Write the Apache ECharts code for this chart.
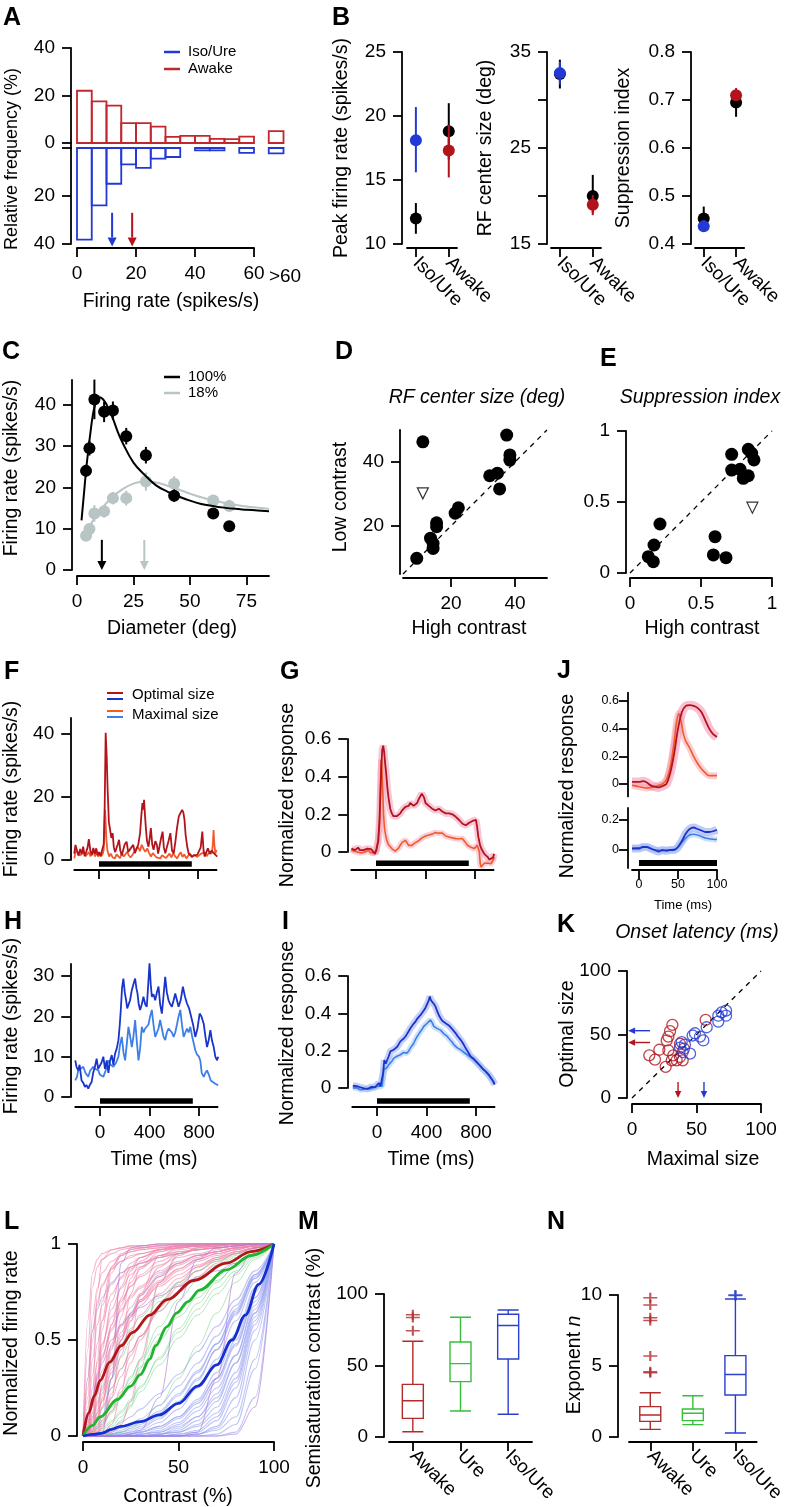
<!DOCTYPE html>
<html>
<head>
<meta charset="utf-8">
<script src="https://cdn.jsdelivr.net/npm/echarts@6/dist/echarts.min.js"></script>
<style>
html, body { margin: 0; padding: 0; background: #fff; }
#fig { width: 785px; height: 1507px; }
</style>
</head>
<body>
<div id="fig"></div>
<script>
// ---------- data ----------
// A: firing-rate histograms
const aBinStart = [0, 5, 10, 15, 20, 25, 30, 35, 40, 45, 50, 55, 65];
const aBinWidth = 5;
const aAwake = [22, 17.5, 15.7, 8.4, 8.4, 6.9, 2.6, 3, 3, 1.7, 1.6, 2.7, 5];
const aIsoUre = [38.2, 23.9, 14.9, 6.8, 8.3, 4.4, 3.75, 0, 1, 1, 0, 2, 2.2];
const aMeanIsoUre = 11.9;
const aMeanAwake = 18.7;

// B: population means
const bCats = ['Iso/Ure', 'Awake'];
const peakBlack = [12, 18.8], peakBlackLo = [10.8, 16.6], peakBlackHi = [13.2, 21];
const peakColor = [18.1, 17.3], peakColorLo = [15.6, 15.2], peakColorHi = [20.7, 19.3];
const rfBlack = [32.7, 20], rfBlackLo = [31.2, 18.2], rfBlackHi = [34.2, 22.2];
const rfColor = [32.8, 19.1], rfColorLo = [31.6, 18], rfColorHi = [34, 20.1];
const siBlack = [0.453, 0.695], siBlackLo = [0.43, 0.665], siBlackHi = [0.478, 0.72];
const siColor = [0.437, 0.71], siColorLo = [0.425, 0.7], siColorHi = [0.45, 0.725];

// C: size tuning example
const cDiam = [4, 5.5, 7.7, 12, 15.9, 21.8, 30.5, 43, 60.3, 67.4];
const c100 = [24, 29.5, 41.3, 38.3, 38.6, 32.4, 27.8, 18, 13.7, 10.6];
const c100Err = [1.5, 1.8, 4.8, 2.5, 2.2, 2, 2, 1.5, 1, 0.8];
const c18 = [8.3, 9.9, 13.7, 14.2, 17.4, 17.4, 21.4, 20.9, 16.8, 15.5];
const c18Err = [1, 1, 2, 1.5, 1.5, 1.8, 2.2, 1.8, 1.2, 1.5];
const cFit100X = [2, 3, 4, 5, 6, 7, 8, 9, 10, 12, 14, 16, 18, 20, 25, 30, 35, 40, 45, 50, 55, 60, 65, 70, 75, 80, 85];
const cFit100Y = [12, 18, 24, 29, 33.5, 37.5, 40, 41.5, 41.8, 41, 39, 36.5, 33.5, 31, 26, 23, 20.5, 19, 17.8, 16.8, 16, 15.5, 15.1, 14.8, 14.6, 14.4, 14.2];
const cFit18X = [3, 5, 8, 10, 15, 20, 25, 30, 35, 40, 45, 50, 55, 60, 65, 70, 75, 80, 85];
const cFit18Y = [8, 10, 12.8, 14.3, 17.3, 19.5, 20.9, 21.4, 21.2, 20.4, 19.5, 18.5, 17.6, 16.9, 16.3, 15.8, 15.4, 15.1, 14.8];
const cPeak100 = 11, cPeak18 = 29.8;

// D, E: high vs low contrast
const dHigh = [11.2, 37.4, 38.4, 38.4, 32.1, 34.5, 35.2, 22.3, 21.3, 15.5, 15.5, 13.6, 14.4, 14.4, 9.3];
const dLow = [46.3, 48.4, 42.2, 40.6, 35.7, 36.5, 31.6, 25.7, 24, 21, 19.8, 16.2, 14.6, 13, 9.9];
const dTriHigh = [11.2], dTriLow = [30.2];
const eHigh = [0.716, 0.833, 0.857, 0.873, 0.716, 0.775, 0.798, 0.833, 0.169, 0.129, 0.164, 0.211, 0.599, 0.587, 0.676];
const eLow = [0.836, 0.871, 0.843, 0.796, 0.725, 0.73, 0.667, 0.685, 0.197, 0.115, 0.08, 0.345, 0.256, 0.127, 0.108];
const eTriHigh = [0.862], eTriLow = [0.46];

// F-I: PSTHs, [time ms, value]
const stimOn = 0, stimOff = 750;
const fOptimal = [[-200,2],[-190,4.8],[-178,3],[-165,1.5],[-152,3.5],[-140,1.8],[-128,4.2],[-116,1.2],[-104,2.5],[-92,4],[-82,6.6],[-70,3],[-58,1.5],[-46,3.8],[-34,2],[-22,3.7],[-10,1.5],[0,2.5],[12,1.2],[27,1.6],[38,5],[46,17],[54,40.3],[62,33],[70,22],[80,12],[90,9.5],[100,7],[110,8.5],[120,4],[130,2.5],[141,2.1],[152,5],[162,6.4],[172,3],[184,1.5],[196,2.1],[208,5],[223,5.8],[236,2.5],[250,2.1],[262,4],[277,4.8],[290,2.2],[305,3.7],[318,5],[332,8.5],[342,14],[351,18],[358,16],[364,19.1],[372,14],[378,10.6],[388,6],[400,4.2],[410,7],[419,10.1],[430,5],[441,3.2],[455,6],[468,4.8],[478,2],[490,2.5],[502,7],[514,9],[524,4],[536,2.1],[548,4],[562,6],[577,8.5],[590,3],[604,2.1],[618,6],[630,10],[645,13.8],[660,15],[672,15.9],[682,15],[691,12.7],[700,8],[713,4.2],[725,2],[740,1.5],[753,1.1],[770,1.5],[794,1.6],[810,2],[822,4],[835,9],[845,3],[854,1.1],[868,2.5],[880,3.7],[895,2],[910,3],[930,2.1],[945,1.5],[955,1.1]];
const fMaximal = [[-200,0.5],[-190,2.5],[-180,3.2],[-168,1.5],[-155,2],[-145,1.6],[-132,3],[-120,2.7],[-108,1.2],[-95,1.1],[-82,2.5],[-70,1.2],[-58,2.1],[-45,3],[-32,1.1],[-20,2.6],[-8,1.1],[5,2.3],[18,1.2],[30,2],[38,3.2],[44,9],[49,15.9],[55,11],[60,6.4],[68,3],[82,1.1],[95,2],[110,0.8],[128,0.5],[142,1.8],[156,1.6],[170,0.6],[185,2.2],[200,1.1],[215,0.9],[228,2.6],[240,1.5],[255,0.8],[270,1.6],[285,2.1],[300,3.5],[315,4.2],[330,2.8],[345,4.8],[360,3.5],[375,2.6],[390,3.7],[405,2.2],[420,1.1],[435,2.2],[450,1.6],[465,0.8],[480,1.2],[495,0.5],[510,1.5],[525,1.6],[540,0.6],[555,1.1],[570,2],[585,0.8],[600,2.1],[615,1.2],[630,0.5],[645,1.5],[660,2.5],[675,1],[690,1.8],[705,0.5],[720,1.3],[735,2.1],[750,0.8],[765,1.6],[780,2.2],[795,1],[810,0.6],[825,2],[840,1.5],[855,2.4],[870,1.2],[885,2.1],[900,1.6],[912,2.1],[920,5],[926,9.5],[932,5],[940,2.1],[950,3.2]];
const gOptimal = [[-199,0.018],[-185,0.02],[-170,0.01],[-158,0.015],[-145,0.023],[-130,0.01],[-115,0.005],[-100,0.01],[-85,0.02],[-70,0.018],[-55,0.01],[-40,0.015],[-25,0.005],[-8,-0.01],[5,0.02],[19,0.06],[30,0.2],[41,0.42],[50,0.54],[58,0.565],[66,0.53],[74,0.47],[82,0.42],[92,0.34],[101,0.29],[115,0.23],[128,0.205],[141,0.19],[155,0.18],[168,0.19],[182,0.2],[196,0.205],[210,0.22],[223,0.23],[237,0.24],[250,0.25],[264,0.245],[277,0.26],[290,0.25],[304,0.245],[318,0.24],[332,0.26],[345,0.28],[359,0.29],[370,0.31],[378,0.32],[388,0.29],[400,0.26],[414,0.25],[427,0.245],[441,0.24],[454,0.23],[468,0.225],[481,0.22],[495,0.225],[508,0.23],[522,0.23],[536,0.215],[550,0.21],[563,0.205],[577,0.21],[590,0.205],[604,0.21],[617,0.2],[631,0.195],[645,0.187],[658,0.18],[672,0.17],[685,0.16],[699,0.15],[712,0.145],[726,0.142],[740,0.15],[753,0.155],[767,0.16],[780,0.165],[794,0.168],[808,0.17],[818,0.13],[827,0.08],[840,0.04],[850,0.02],[862,0.018],[875,-0.01],[889,-0.02],[903,-0.027],[916,-0.04],[930,-0.045],[945,-0.03],[955,-0.009]];
const gMaximal = [[-199,0.012],[-180,0.005],[-165,0.01],[-150,0],[-135,0.008],[-120,-0.005],[-105,0.005],[-90,0],[-75,0.005],[-60,0.01],[-45,-0.004],[-30,0.005],[-20,-0.004],[-8,0],[5,0.005],[19,0.009],[30,0.15],[41,0.49],[47,0.45],[54,0.33],[61,0.2],[68,0.13],[78,0.09],[87,0.062],[100,0.04],[114,0.03],[128,0.018],[142,0.01],[155,0.005],[169,0],[182,0.02],[196,0.036],[210,0.05],[223,0.045],[237,0.062],[250,0.05],[264,0.035],[277,0.027],[290,0.035],[304,0.045],[318,0.05],[332,0.053],[345,0.06],[359,0.07],[372,0.075],[386,0.08],[400,0.085],[414,0.088],[427,0.09],[441,0.089],[454,0.095],[468,0.1],[481,0.103],[495,0.107],[508,0.1],[522,0.095],[536,0.1],[550,0.09],[563,0.085],[577,0.082],[590,0.08],[604,0.078],[617,0.075],[631,0.072],[645,0.071],[658,0.075],[672,0.07],[685,0.072],[699,0.071],[712,0.06],[726,0.05],[740,0.036],[753,0.03],[767,0.025],[780,0.02],[794,0.018],[808,0.025],[818,0.035],[827,0.045],[835,0],[842,-0.06],[849,-0.08],[862,-0.07],[875,-0.06],[889,-0.053],[903,-0.058],[916,-0.065],[930,-0.062],[945,-0.045],[955,-0.027]];
const hOptimal = [[-200,9.1],[-190,7.5],[-176,6.6],[-165,8],[-149,4.1],[-135,3.5],[-122,2.5],[-110,3],[-95,2.1],[-82,3],[-68,3.7],[-55,6],[-41,7.5],[-27,9.5],[-15,7],[0,6.6],[12,8.5],[27,10],[40,7],[54,9.1],[68,6],[81,9],[95,10.4],[108,8],[122,10.8],[135,12],[149,14.1],[160,18],[168,21.6],[178,27],[189,29.4],[200,26],[211,24],[220,22],[230,21.6],[243,24],[257,26.5],[270,28],[284,29.4],[294,27],[303,25.7],[313,23],[324,21.6],[338,23],[351,24.9],[365,23],[378,22.4],[390,28],[400,33.2],[410,28],[419,24.9],[432,25.5],[446,24],[460,26],[473,27.4],[486,23],[500,20.7],[513,25],[527,29.8],[540,26],[554,24],[568,23],[581,22.4],[595,24],[608,25.7],[622,24],[635,22.4],[652,24],[670,27.4],[686,25],[703,23.2],[720,22],[735,21.6],[752,18],[770,14.9],[788,17],[805,20.7],[820,20],[838,18.2],[852,15],[865,12.4],[878,14],[892,16.6],[905,14],[919,12.4],[932,10],[946,9.1],[955,10]];
const hMaximal = [[-200,4.1],[-186,5],[-176,6.6],[-160,7],[-135,7.5],[-118,6],[-95,5],[-80,6.5],[-55,7.5],[-40,7],[-14,6.6],[0,5.5],[27,5],[45,6.5],[68,9.1],[85,8],[108,7.5],[130,8.5],[149,10],[162,13],[176,14.9],[190,11],[203,9.1],[216,13],[230,17.4],[244,15],[257,12.4],[270,15],[284,19.1],[297,14],[311,9.1],[324,12],[338,17.4],[352,16],[365,17],[378,17.4],[392,18],[405,20],[419,21.6],[432,18],[446,14.9],[460,16],[473,17],[486,19.1],[500,17],[513,15],[527,14.1],[540,16],[554,17],[568,17.4],[581,16],[595,14.9],[608,16],[622,18],[635,20],[649,21.6],[662,18],[676,14.9],[690,16],[703,17],[716,16],[730,17.4],[745,15],[760,13],[770,11.6],[785,10.5],[800,10],[811,9],[822,6],[838,5],[852,6],[865,6.6],[880,5.5],[895,4.1],[910,4],[932,3.3],[945,3.5],[955,2.9]];
const iOptimal = [[-195,0.012],[-180,0.005],[-165,0.01],[-150,0],[-135,0.004],[-120,0.008],[-105,-0.002],[-90,0.003],[-75,-0.005],[-60,0.002],[-45,0.006],[-30,-0.002],[-15,0.004],[0,0.01],[14,0.027],[28,0.01],[41,0],[50,0.08],[59,0.15],[70,0.13],[81,0.13],[95,0.17],[108,0.196],[122,0.19],[135,0.205],[149,0.214],[162,0.22],[176,0.235],[189,0.25],[203,0.255],[216,0.265],[230,0.276],[243,0.29],[257,0.305],[270,0.32],[284,0.33],[297,0.345],[311,0.356],[324,0.37],[338,0.38],[351,0.39],[365,0.4],[378,0.415],[392,0.43],[405,0.44],[416,0.465],[427,0.49],[436,0.47],[446,0.463],[460,0.45],[473,0.436],[487,0.41],[500,0.39],[514,0.374],[527,0.36],[541,0.355],[554,0.347],[568,0.34],[581,0.335],[595,0.33],[608,0.315],[622,0.305],[635,0.294],[649,0.28],[662,0.27],[676,0.258],[689,0.245],[703,0.23],[716,0.214],[730,0.2],[743,0.185],[757,0.169],[770,0.16],[784,0.155],[797,0.151],[811,0.135],[824,0.125],[838,0.116],[851,0.105],[865,0.095],[878,0.089],[892,0.08],[905,0.07],[919,0.062],[935,0.04],[951,0.018]];
const iMaximal = [[-195,0],[-180,-0.005],[-165,0.002],[-150,-0.008],[-135,-0.009],[-120,-0.004],[-105,-0.006],[-90,0],[-75,-0.003],[-60,0],[-45,-0.004],[-30,0.002],[-15,0.005],[0,0.009],[14,0.01],[28,0.005],[41,0.01],[54,0.098],[68,0.09],[81,0.11],[95,0.125],[108,0.13],[122,0.145],[135,0.16],[149,0.165],[162,0.17],[176,0.175],[189,0.178],[203,0.18],[216,0.19],[230,0.183],[243,0.187],[257,0.2],[270,0.215],[284,0.228],[297,0.24],[311,0.26],[324,0.275],[338,0.29],[351,0.303],[365,0.315],[378,0.33],[392,0.34],[405,0.347],[418,0.355],[432,0.365],[446,0.35],[459,0.33],[473,0.325],[487,0.318],[500,0.312],[514,0.31],[527,0.3],[541,0.29],[554,0.285],[568,0.276],[581,0.265],[595,0.255],[608,0.245],[622,0.231],[635,0.225],[649,0.215],[662,0.21],[676,0.205],[689,0.195],[703,0.19],[716,0.185],[730,0.178],[743,0.17],[757,0.165],[770,0.16],[784,0.151],[797,0.145],[811,0.135],[824,0.125],[838,0.116],[851,0.105],[865,0.095],[878,0.087],[892,0.08],[905,0.065],[919,0.055],[935,0.04],[951,0.027]];

// J: onset zoom
const jStim = [0, 100];
const jAwakeOptimal = [[-9,0.015],[0,0.015],[5,0.02],[10,0.01],[15,-0.01],[20,-0.02],[25,-0.025],[30,-0.015],[35,0],[40,0.08],[45,0.22],[50,0.4],[55,0.52],[60,0.565],[65,0.57],[70,0.565],[75,0.55],[80,0.52],[85,0.46],[90,0.4],[95,0.36],[100,0.34]];
const jAwakeMaximal = [[-9,-0.01],[0,-0.02],[5,-0.025],[10,-0.03],[15,-0.025],[20,-0.02],[25,-0.01],[30,0],[35,0.03],[40,0.12],[45,0.3],[48,0.44],[51,0.51],[54,0.45],[57,0.36],[60,0.31],[65,0.26],[70,0.2],[75,0.15],[80,0.11],[85,0.08],[90,0.06],[95,0.06],[100,0.06]];
const jIsoOptimal = [[-9,0.01],[0,0.01],[5,0.02],[10,0.02],[15,0.01],[20,0],[25,-0.01],[30,0],[35,-0.005],[40,0],[45,0],[50,0.02],[55,0.06],[60,0.11],[65,0.14],[70,0.15],[75,0.14],[80,0.13],[85,0.12],[90,0.12],[95,0.125],[100,0.135]];
const jIsoMaximal = [[-9,0.01],[0,0.015],[5,0.02],[10,0.02],[15,0.01],[20,0],[25,0],[30,-0.005],[35,0],[40,0],[45,0.005],[50,0.02],[55,0.05],[60,0.08],[65,0.1],[70,0.105],[75,0.1],[80,0.09],[85,0.08],[90,0.075],[95,0.072],[100,0.07]];

// K: onset latency
const kAwakeMax = [31.3, 29.5, 28.2, 26.9, 21.2, 13.4, 17.8, 26.1, 28.2, 32, 34.6, 39.3, 37.2, 40.3, 30.8, 57.1, 37.2];
const kAwakeOpt = [57.6, 52.6, 48.4, 45.3, 38, 33.6, 30.2, 24.5, 37.5, 33.6, 29.7, 29.7, 32.3, 38.8, 29.7, 61.5, 42.7];
const kIsoMax = [38.5, 37.2, 39.3, 45, 47, 48.8, 52.7, 55.3, 57.9, 66.9, 69.5, 72.9, 72.9, 66.9, 41];
const kIsoOpt = [44, 39.6, 36.2, 34.9, 49.2, 51, 48.4, 45.3, 55.7, 64.8, 67.4, 68.8, 64.8, 60.2, 42];
const kMeanOpt = { iso: 53, awake: 43.7 };
const kMeanMax = { awake: 35.7, iso: 55.8 };

// L: contrast response functions (normalized), sampled at lContrast
const lContrast = [0, 2.5, 5, 7.5, 10, 15, 20, 25, 30, 40, 50, 60, 70, 80, 90, 100];
const lAwakeCells = [
  [0,0.01,0.2,0.75,0.92,0.97,0.98,0.99,0.99,1,1,1,1,1,1,1],
  [0,0,0.05,0.3,0.6,0.88,0.95,0.97,0.98,0.99,1,1,1,1,1,1],
  [0,0.06,0.2,0.32,0.42,0.56,0.66,0.73,0.78,0.86,0.91,0.94,0.96,0.98,0.99,1],
  [0,0,0.01,0.05,0.15,0.45,0.72,0.86,0.93,0.97,0.99,0.99,1,1,1,1],
  [0,0.07,0.16,0.26,0.34,0.47,0.57,0.64,0.7,0.78,0.84,0.89,0.93,0.96,0.98,1],
  [0,0,0,0.01,0.04,0.2,0.5,0.74,0.88,0.96,0.98,0.99,1,1,1,1],
  [0,0.02,0.06,0.12,0.19,0.33,0.45,0.55,0.63,0.74,0.82,0.88,0.92,0.95,0.98,1],
  [0,0.15,0.4,0.58,0.68,0.79,0.85,0.88,0.9,0.93,0.95,0.97,0.98,0.99,0.99,1],
  [0,0,0,0,0.01,0.06,0.22,0.5,0.74,0.94,0.98,0.99,1,1,1,1],
  [0,0.03,0.1,0.18,0.26,0.41,0.54,0.63,0.71,0.81,0.87,0.92,0.95,0.97,0.99,1],
  [0,0.01,0.03,0.06,0.1,0.2,0.31,0.42,0.52,0.67,0.78,0.86,0.92,0.96,0.98,1],
  [0,0.45,0.78,0.88,0.92,0.95,0.97,0.98,0.98,0.99,0.99,1,1,1,1,1],
  [0,0,0.02,0.2,0.55,0.85,0.94,0.97,0.98,0.99,1,1,1,1,1,1],
  [0,0,0,0,0,0.02,0.06,0.18,0.4,0.8,0.94,0.98,0.99,1,1,1],
  [0,0.02,0.05,0.1,0.15,0.25,0.35,0.44,0.52,0.65,0.75,0.83,0.9,0.95,0.98,1],
  [0,0.1,0.25,0.38,0.48,0.62,0.71,0.78,0.83,0.89,0.93,0.95,0.97,0.98,0.99,1],
  [0,0.02,0.12,0.4,0.7,0.88,0.94,0.96,0.97,0.98,0.99,0.99,1,1,1,1],
  [0,0.05,0.15,0.28,0.4,0.58,0.7,0.78,0.84,0.91,0.95,0.97,0.98,0.99,1,1],
  [0,0,0.01,0.03,0.08,0.3,0.62,0.82,0.91,0.97,0.99,1,1,1,1,1],
  [0,0.3,0.62,0.77,0.85,0.91,0.94,0.96,0.97,0.98,0.99,0.99,1,1,1,1],
  [0,0.2,0.5,0.68,0.78,0.87,0.91,0.94,0.95,0.97,0.98,0.99,0.99,1,1,1],
  [0,0.01,0.08,0.25,0.45,0.7,0.83,0.9,0.93,0.96,0.98,0.99,0.99,1,1,1],
  [0,0.04,0.12,0.22,0.31,0.46,0.58,0.67,0.74,0.83,0.89,0.93,0.96,0.98,0.99,1],
  [0,0,0.02,0.08,0.2,0.48,0.68,0.8,0.87,0.94,0.97,0.98,0.99,1,1,1],
  [0,0.08,0.2,0.31,0.41,0.55,0.65,0.72,0.77,0.85,0.9,0.94,0.96,0.98,0.99,1],
  [0,0.6,0.85,0.92,0.95,0.97,0.98,0.99,0.99,1,1,1,1,1,1,1],
  [0,0,0.03,0.12,0.28,0.58,0.78,0.88,0.93,0.97,0.99,0.99,1,1,1,1],
  [0,0.02,0.07,0.14,0.22,0.37,0.5,0.6,0.68,0.79,0.86,0.91,0.94,0.97,0.99,1],
  [0,0.12,0.32,0.48,0.6,0.74,0.82,0.87,0.9,0.94,0.96,0.97,0.98,0.99,1,1],
  [0,0,0,0.02,0.06,0.22,0.42,0.6,0.73,0.88,0.95,0.97,0.99,1,1,1],
  [0,0.03,0.09,0.16,0.24,0.39,0.52,0.62,0.7,0.8,0.87,0.92,0.95,0.97,0.99,1],
  [0,0.25,0.55,0.7,0.79,0.87,0.91,0.93,0.95,0.97,0.98,0.99,0.99,1,1,1],
  [0,0.01,0.04,0.1,0.18,0.35,0.5,0.62,0.71,0.83,0.9,0.94,0.96,0.98,0.99,1],
  [0,0.06,0.18,0.33,0.47,0.66,0.77,0.84,0.88,0.93,0.96,0.97,0.98,0.99,1,1],
  [0,0,0.01,0.02,0.05,0.13,0.25,0.38,0.5,0.68,0.8,0.88,0.93,0.96,0.98,1]
];
const lUreCells = [
  [0,0.01,0.03,0.05,0.08,0.15,0.23,0.31,0.39,0.53,0.65,0.75,0.83,0.9,0.95,1],
  [0,0,0.01,0.02,0.04,0.08,0.13,0.19,0.26,0.4,0.54,0.66,0.77,0.86,0.94,1],
  [0,0,0,0,0.01,0.03,0.08,0.15,0.35,0.8,0.95,0.98,0.99,1,1,1],
  [0,0.02,0.05,0.09,0.14,0.25,0.35,0.44,0.52,0.65,0.75,0.83,0.89,0.94,0.97,1],
  [0,0,0,0.01,0.02,0.05,0.1,0.16,0.23,0.37,0.51,0.63,0.74,0.84,0.93,1],
  [0,0.01,0.02,0.04,0.06,0.12,0.2,0.28,0.36,0.5,0.62,0.72,0.81,0.88,0.95,1],
  [0,0,0,0,0,0.01,0.02,0.04,0.07,0.16,0.3,0.47,0.64,0.8,0.92,1],
  [0,0.05,0.1,0.17,0.25,0.38,0.48,0.56,0.62,0.72,0.8,0.86,0.91,0.95,0.98,1],
  [0,0.01,0.02,0.04,0.07,0.13,0.21,0.3,0.4,0.57,0.71,0.81,0.88,0.93,0.97,1],
  [0,0.03,0.07,0.12,0.18,0.3,0.41,0.5,0.58,0.7,0.79,0.86,0.91,0.95,0.98,1],
  [0,0,0.01,0.02,0.03,0.07,0.12,0.18,0.25,0.41,0.56,0.69,0.8,0.89,0.95,1]
];
const lIsoCells = [
  [0,0,0,0,0,0,0,0.01,0.02,0.05,0.1,0.18,0.3,0.48,0.72,1],
  [0,0,0,0,0,0,0,0,0,0.01,0.02,0.05,0.12,0.3,0.62,1],
  [0,0,0,0,0,0.01,0.02,0.03,0.05,0.1,0.18,0.3,0.45,0.63,0.82,1],
  [0,0,0,0,0,0,0,0,0,0,0,0.01,0.04,0.15,0.5,1],
  [0,0,0,0,0.01,0.02,0.04,0.06,0.09,0.16,0.26,0.38,0.52,0.68,0.84,1],
  [0,0,0,0,0,0,0,0,0.01,0.02,0.06,0.13,0.25,0.42,0.68,1],
  [0,0,0,0,0,0,0.01,0.02,0.03,0.07,0.14,0.25,0.4,0.6,0.8,1],
  [0,0,0,0,0,0,0,0,0,0,0.01,0.02,0.08,0.25,0.58,1],
  [0,0,0.01,0.01,0.02,0.04,0.07,0.1,0.14,0.22,0.32,0.44,0.57,0.71,0.86,1],
  [0,0,0,0,0,0,0,0,0,0.01,0.03,0.08,0.18,0.38,0.66,1],
  [0,0,0,0,0,0,0,0,0,0,0,0,0.01,0.06,0.35,1],
  [0,0,0,0,0,0.01,0.01,0.02,0.04,0.09,0.17,0.29,0.45,0.64,0.83,1],
  [0,0.3,0.55,0.66,0.72,0.8,0.85,0.88,0.9,0.93,0.95,0.97,0.98,0.99,1,1],
  [0,0,0.01,0.04,0.1,0.3,0.5,0.64,0.73,0.84,0.9,0.94,0.96,0.98,0.99,1],
  [0,0,0,0,0,0,0,0.01,0.02,0.04,0.09,0.17,0.3,0.5,0.75,1],
  [0,0,0,0,0,0,0,0,0.01,0.03,0.07,0.15,0.28,0.47,0.72,1],
  [0,0,0,0,0,0,0,0,0,0,0,0.01,0.03,0.1,0.4,1],
  [0,0,0,0,0,0,0,0,0.01,0.02,0.05,0.1,0.2,0.38,0.64,1],
  [0,0,0,0,0,0,0.01,0.01,0.02,0.05,0.1,0.19,0.33,0.53,0.77,1],
  [0,0,0,0,0,0,0,0,0,0,0.01,0.03,0.1,0.28,0.6,1],
  [0,0,0,0,0.01,0.01,0.03,0.05,0.07,0.13,0.22,0.34,0.48,0.65,0.82,1],
  [0,0,0,0,0,0,0,0,0,0.01,0.02,0.06,0.15,0.33,0.64,1],
  [0,0,0,0,0,0,0,0,0,0,0,0,0,0.02,0.2,1],
  [0,0,0,0,0,0.01,0.02,0.04,0.06,0.12,0.21,0.33,0.48,0.66,0.84,1],
  [0,0,0,0,0,0,0,0,0,0.01,0.04,0.1,0.22,0.42,0.7,1],
  [0,0,0,0,0,0,0,0,0,0,0,0.01,0.05,0.2,0.55,1]
];
const lOtherCells = [
  [0,0,0,0,0.01,0.3,0.9,0.98,0.99,1,1,1,1,1,1,1],
  [0,0,0,0,0,0,0,0.01,0.03,0.2,0.7,0.92,0.98,0.99,1,1],
  [0,0,0,0,0,0,0,0,0,0,0,0.02,0.3,0.85,0.98,1],
  [0,0.1,0.2,0.3,0.38,0.5,0.58,0.63,0.67,0.73,0.78,0.82,0.86,0.9,0.95,1],
  [0,0,0,0,0,0,0,0,0,0,0,0,0,0.01,0.15,1]
];
const lMeanAwake = [[0,0],[3,0.12],[6,0.21],[9,0.29],[14,0.385],[20,0.47],[26,0.54],[35,0.63],[44,0.71],[58,0.81],[75,0.9],[88,0.96],[100,1]];
const lMeanUre = [[0,0],[5,0.055],[9,0.1],[18,0.19],[25,0.26],[30,0.32],[35,0.4],[38,0.47],[44,0.57],[49,0.64],[55,0.7],[61,0.76],[75,0.865],[88,0.94],[100,1]];
const lMeanIso = [[0,0],[5,0.008],[10,0.015],[15,0.035],[20,0.05],[30,0.075],[40,0.11],[50,0.17],[60,0.26],[70,0.37],[78,0.5],[85,0.63],[92,0.79],[100,1]];

// M, N: box plots [min, q1, median, q3, max]
const mnCats = ['Awake', 'Ure', 'Iso/Ure'];
const mBoxes = [[3.7, 13, 25.4, 36.8, 67], [18.2, 38.7, 51.3, 66.4, 83.7], [15.9, 54.5, 78, 85.8, 88.8]];
const mOutliers = [[0, 74.3], [0, 83.5], [0, 85.5]];
const nBoxes = [[0.54, 1.1, 1.55, 2.14, 3.12], [0.87, 1.15, 1.67, 1.97, 2.9], [0.28, 2.96, 4.4, 5.73, 9.72]];
const nOutliers = [[0, 9.8], [0, 9.3], [0, 8.4], [0, 8.2], [0, 5.7], [0, 4.6], [0, 4.52], [2, 10.0], [2, 9.97], [2, 10.03]];

// ---------- styling ----------
const FONT = '"Liberation Sans", Arial, Helvetica, sans-serif';
const TICK = 19, TITLE = 19.5;
const RED = '#c1272d', BLUE = '#2339d6';
const DRED = '#b3141b', ORANGE = '#f15a2b', DBLUE = '#1a34c9', LBLUE = '#3d7fe6';
const GRAY = '#b9c4c4';
const boxColors = ['#b22a2a', '#35bf3a', '#2a3fd0'];

function merge(a, b) {
  const o = Object.assign({}, a);
  for (const k in b) {
    if (b[k] && typeof b[k] === 'object' && !Array.isArray(b[k]) && a[k] && typeof a[k] === 'object') o[k] = merge(a[k], b[k]);
    else o[k] = b[k];
  }
  return o;
}
const baseAxis = {
  type: 'value',
  splitLine: { show: false },
  axisLine: { show: true, onZero: false, lineStyle: { color: '#000', width: 1.8 } },
  axisTick: { show: true, length: 9, lineStyle: { color: '#000', width: 1.8 } },
  axisLabel: { color: '#000', fontSize: TICK, fontFamily: FONT, margin: 16 }
};
function ax(gi, pos, o) { return merge(baseAxis, Object.assign({ gridIndex: gi, position: pos }, o)); }
function tv(vals, lab) {
  return { axisTick: { customValues: vals }, axisLabel: Object.assign({ customValues: vals }, lab || {}) };
}
function xa(gi, o) { return ax(gi, 'bottom', o); }
function ya(gi, o) { return ax(gi, 'left', o); }

const grids = [
  { left: 77, top: 48, width: 177, height: 95 },        // 0 A top
  { left: 77, top: 148, width: 177, height: 96 },       // 1 A bottom
  { left: 407, top: 52, width: 50, height: 192 },       // 2 B1
  { left: 551, top: 52, width: 50, height: 192 },       // 3 B2
  { left: 695, top: 52, width: 50, height: 192 },       // 4 B3
  { left: 77, top: 380, width: 192, height: 190 },      // 5 C
  { left: 403, top: 430, width: 144, height: 144 },     // 6 D
  { left: 630, top: 431, width: 142, height: 142 },     // 7 E
  { left: 74.25, top: 718, width: 142.3, height: 142 }, // 8 F
  { left: 351.25, top: 739, width: 142.3, height: 113 },// 9 G
  { left: 632, top: 692.7, width: 85, height: 103.7 },  // 10 J top
  { left: 632, top: 808, width: 85, height: 60 },       // 11 J bottom
  { left: 75.25, top: 964, width: 142.3, height: 133 }, // 12 H
  { left: 352.25, top: 976, width: 142.3, height: 112 },// 13 I
  { left: 632, top: 971, width: 129, height: 127 },     // 14 K
  { left: 83, top: 1244, width: 191, height: 192 },     // 15 L
  { left: 389, top: 1294, width: 143, height: 143 },    // 16 M
  { left: 629, top: 1295, width: 143, height: 142 }     // 17 N
];

const catLab = (v) => bCats[Math.round(v) - 1] || '';
const rotLab = { rotate: -45, margin: 12, formatter: catLab };
const timeTicks = [0, 400, 800];

const xAxes = [
  xa(0, { min: 0, max: 60, show: false }),
  xa(1, Object.assign({ min: 0, max: 60, offset: 4 }, tv([0, 20, 40, 60]))),
  xa(2, Object.assign({ min: 0.73, max: 2.25, offset: 4 }, tv([1, 2], rotLab))),
  xa(3, Object.assign({ min: 0.73, max: 2.25, offset: 4 }, tv([1, 2], rotLab))),
  xa(4, Object.assign({ min: 0.73, max: 2.25, offset: 4 }, tv([1, 2], rotLab))),
  xa(5, Object.assign({ min: 0, max: 85, offset: 6 }, tv([0, 25, 50, 75]))),
  xa(6, Object.assign({ min: 5, max: 50, offset: 4 }, tv([20, 40]))),
  xa(7, Object.assign({ min: 0, max: 1, offset: 5 }, tv([0, 0.5, 1]))),
  xa(8, Object.assign({ min: -200, max: 950, offset: 10 }, tv(timeTicks, { show: false }))),
  xa(9, Object.assign({ min: -200, max: 950, offset: 18 }, tv(timeTicks, { show: false }))),
  xa(10, { min: -9, max: 100, show: false }),
  xa(11, Object.assign({ min: -9, max: 100, offset: 2, axisTick: { length: 5 } }, tv([0, 50, 100], { fontSize: 12.5, margin: 8 }))),
  xa(12, Object.assign({ min: -200, max: 950, offset: 10 }, tv(timeTicks))),
  xa(13, Object.assign({ min: -200, max: 950, offset: 19 }, tv(timeTicks))),
  xa(14, Object.assign({ min: 0, max: 100, offset: 6 }, tv([0, 50, 100]))),
  xa(15, Object.assign({ min: 0, max: 100, offset: 6 }, tv([0, 50, 100]))),
  xa(16, { type: 'category', data: mnCats, offset: 5, axisTick: { alignWithLabel: true }, axisLabel: { rotate: -45, margin: 11 } }),
  xa(17, { type: 'category', data: mnCats, offset: 5, axisTick: { alignWithLabel: true }, axisLabel: { rotate: -45, margin: 11 } })
];

const yAxes = [
  ya(0, Object.assign({ min: 0, max: 40, offset: 6 }, tv([0, 20, 40]))),
  ya(1, Object.assign({ min: 0, max: 40, offset: 6, inverse: true, axisTick: { customValues: [0, 20, 40] }, axisLabel: { customValues: [20, 40] } })),
  ya(2, Object.assign({ min: 10, max: 25, offset: 5 }, tv([10, 15, 20, 25]))),
  ya(3, Object.assign({ min: 15, max: 35, offset: 4, axisTick: { customValues: [15, 20, 25, 30, 35] }, axisLabel: { customValues: [15, 25, 35] } })),
  ya(4, Object.assign({ min: 0.4, max: 0.8, offset: 4 }, tv([0.4, 0.5, 0.6, 0.7, 0.8]))),
  ya(5, Object.assign({ min: 0, max: 46, offset: 5 }, tv([0, 10, 20, 30, 40]))),
  ya(6, Object.assign({ min: 5, max: 50, offset: 3 }, tv([20, 40]))),
  ya(7, Object.assign({ min: 0, max: 1, offset: 4 }, tv([0, 0.5, 1]))),
  ya(8, Object.assign({ min: 0, max: 45, offset: 4 }, tv([0, 20, 40]))),
  ya(9, Object.assign({ min: 0, max: 0.6, offset: 4 }, tv([0, 0.2, 0.4, 0.6]))),
  ya(10, Object.assign({ min: -0.09, max: 0.66, offset: 4, axisTick: { length: 5 } }, tv([0, 0.2, 0.4, 0.6], { fontSize: 12.5, margin: 9 }))),
  ya(11, Object.assign({ min: -0.12, max: 0.28, offset: 4, axisTick: { length: 5 } }, tv([0, 0.2], { fontSize: 12.5, margin: 9 }))),
  ya(12, Object.assign({ min: 0, max: 33, offset: 5 }, tv([0, 10, 20, 30]))),
  ya(13, Object.assign({ min: 0, max: 0.6, offset: 5 }, tv([0, 0.2, 0.4, 0.6]))),
  ya(14, Object.assign({ min: 0, max: 100, offset: 5 }, tv([0, 50, 100]))),
  ya(15, Object.assign({ min: 0, max: 1, offset: 6 }, tv([0, 0.5, 1]))),
  ya(16, Object.assign({ min: 0, max: 100, offset: 5 }, tv([0, 50, 100]))),
  ya(17, Object.assign({ min: 0, max: 10, offset: 11 }, tv([0, 5, 10])))
];

// ---------- series helpers ----------
const series = [];
function line(gi, data, color, width, extra) {
  series.push(Object.assign({
    type: 'line', xAxisIndex: gi, yAxisIndex: gi, data: data, showSymbol: false, symbol: 'none',
    clip: false, silent: true, lineStyle: { color: color, width: width }, z: 3
  }, extra || {}));
}
function dots(gi, data, color, size, extra) {
  series.push(Object.assign({
    type: 'scatter', xAxisIndex: gi, yAxisIndex: gi, data: data, symbol: 'circle', symbolSize: size,
    itemStyle: { color: color, opacity: 1 }, silent: true, z: 4
  }, extra || {}));
}
function custom(gi, data, render, color, z) {
  series.push({ type: 'custom', xAxisIndex: gi, yAxisIndex: gi, data: data, renderItem: render,
    itemStyle: { color: color }, clip: false, silent: true, z: z || 3 });
}
function histRender(color) {
  return function (p, api) {
    const x0 = api.value(0), v = api.value(1);
    if (!v) return null;
    const a = api.coord([x0, v]), b = api.coord([x0 + aBinWidth, 0]);
    return { type: 'rect', shape: { x: a[0], y: Math.min(a[1], b[1]), width: b[0] - a[0], height: Math.abs(b[1] - a[1]) },
      style: { fill: 'none', stroke: color, lineWidth: 1.8 } };
  };
}
function errRender(p, api) {
  const a = api.coord([api.value(0), api.value(1)]), b = api.coord([api.value(0), api.value(2)]);
  return { type: 'line', shape: { x1: a[0], y1: a[1], x2: b[0], y2: b[1] }, style: { stroke: api.visual('color'), lineWidth: 2 } };
}
function arrowRender(hl, hw, lw) {
  return function (p, api) {
    const c = api.visual('color');
    const a = api.coord([api.value(0), api.value(1)]), b = api.coord([api.value(2), api.value(3)]);
    const dx = b[0] - a[0], dy = b[1] - a[1], len = Math.hypot(dx, dy), ux = dx / len, uy = dy / len;
    const bx = b[0] - ux * hl, by = b[1] - uy * hl;
    return { type: 'group', children: [
      { type: 'line', shape: { x1: a[0], y1: a[1], x2: bx, y2: by }, style: { stroke: c, lineWidth: lw } },
      { type: 'polygon', shape: { points: [[b[0], b[1]], [bx - uy * hw, by + ux * hw], [bx + uy * hw, by - ux * hw]] }, style: { fill: c } }
    ] };
  };
}
const zip = (xs, ys) => xs.map((x, i) => [x, ys[i]]);
const errs = (xs, lo, hi) => xs.map((x, i) => [x, lo[i], hi[i]]);
const pm = (xs, m, e) => xs.map((x, i) => [x, m[i] - e[i], m[i] + e[i]]);
const catX = [1, 2];

// ---------- A ----------
custom(0, zip(aBinStart, aAwake), histRender(RED), RED);
custom(1, zip(aBinStart, aIsoUre), histRender(BLUE), BLUE);
custom(1, [[aMeanIsoUre, 27, aMeanIsoUre, 41]], arrowRender(9, 4.5, 2), BLUE);
custom(1, [[aMeanAwake, 27, aMeanAwake, 41]], arrowRender(9, 4.5, 2), DRED);

// ---------- B ----------
function bPanel(gi, blk, blo, bhi, col, clo, chi) {
  custom(gi, errs(catX, blo, bhi), errRender, '#000', 2);
  dots(gi, zip(catX, blk), '#000', 12, { z: 3 });
  custom(gi, errs(catX, clo, chi).map((d, i) => ({ value: d, itemStyle: { color: i ? DRED : BLUE } })), errRender, BLUE, 4);
  dots(gi, zip(catX, col).map((d, i) => ({ value: d, itemStyle: { color: i ? DRED : BLUE } })), BLUE, 12, { z: 5 });
}
bPanel(2, peakBlack, peakBlackLo, peakBlackHi, peakColor, peakColorLo, peakColorHi);
bPanel(3, rfBlack, rfBlackLo, rfBlackHi, rfColor, rfColorLo, rfColorHi);
bPanel(4, siBlack, siBlackLo, siBlackHi, siColor, siColorLo, siColorHi);

// ---------- C ----------
line(5, zip(cFit18X, cFit18Y), GRAY, 2, { smooth: 0.4, z: 2 });
custom(5, pm(cDiam, c18, c18Err), errRender, GRAY, 2);
dots(5, zip(cDiam, c18), GRAY, 12, { z: 3 });
line(5, zip(cFit100X, cFit100Y), '#000', 2, { smooth: 0.4, z: 4 });
custom(5, pm(cDiam, c100, c100Err), errRender, '#000', 4);
dots(5, zip(cDiam, c100), '#000', 12, { z: 5 });
custom(5, [[cPeak100, 7.3, cPeak100, 0]], arrowRender(9, 4.5, 2), '#000', 5);
custom(5, [[cPeak18, 7.3, cPeak18, 0]], arrowRender(9, 4.5, 2), GRAY, 5);

// ---------- D, E ----------
const dash = { type: [5, 5], color: '#000', width: 1.3 };
const openTri = { symbol: 'triangle', symbolRotate: 180, itemStyle: { color: 'rgba(0,0,0,0)', borderColor: '#000', borderWidth: 1.2 } };
line(6, [[5, 5], [50, 50]], '#000', 1.3, { lineStyle: dash, z: 2 });
dots(6, zip(dHigh, dLow), '#000', 13);
dots(6, zip(dTriHigh, dTriLow), 'transparent', 11, openTri);
line(7, [[0, 0], [1, 1]], '#000', 1.3, { lineStyle: dash, z: 2 });
dots(7, zip(eHigh, eLow), '#000', 13);
dots(7, zip(eTriHigh, eTriLow), 'transparent', 11, openTri);

// ---------- F, G, H, I ----------
const stimBar = (y) => [[stimOn, y], [stimOff, y]];
line(8, fMaximal, ORANGE, 1.8);
line(8, fOptimal, DRED, 1.8, { z: 4 });
line(8, stimBar(-1.3), '#000', 5.5, { z: 5 });
line(9, gOptimal, 'rgba(240,130,170,0.45)', 7, { z: 2 });
line(9, gMaximal, 'rgba(245,150,170,0.45)', 6, { z: 2 });
line(9, gMaximal, ORANGE, 1.6, { z: 3 });
line(9, gOptimal, DRED, 1.8, { z: 4 });
line(9, stimBar(-0.06), '#000', 5.5, { z: 5 });
line(12, hMaximal, LBLUE, 1.8);
line(12, hOptimal, DBLUE, 1.8, { z: 4 });
line(12, stimBar(-1.0), '#000', 5.5, { z: 5 });
line(13, iOptimal, 'rgba(130,150,240,0.45)', 7, { z: 2 });
line(13, iMaximal, 'rgba(150,190,245,0.45)', 6, { z: 2 });
line(13, iMaximal, LBLUE, 1.6, { z: 3 });
line(13, iOptimal, DBLUE, 1.8, { z: 4 });
line(13, stimBar(-0.07), '#000', 5.5, { z: 5 });

// ---------- J ----------
line(10, jAwakeOptimal, 'rgba(240,120,160,0.45)', 9, { smooth: 0.3, z: 2 });
line(10, jAwakeMaximal, 'rgba(245,150,160,0.45)', 7, { smooth: 0.3, z: 2 });
line(10, jAwakeMaximal, ORANGE, 1.6, { smooth: 0.3 });
line(10, jAwakeOptimal, DRED, 1.8, { smooth: 0.3, z: 4 });
line(11, jIsoOptimal, 'rgba(120,140,240,0.45)', 8, { smooth: 0.3, z: 2 });
line(11, jIsoMaximal, 'rgba(150,185,245,0.45)', 6, { smooth: 0.3, z: 2 });
line(11, jIsoMaximal, LBLUE, 1.5, { smooth: 0.3 });
line(11, jIsoOptimal, DBLUE, 1.8, { smooth: 0.3, z: 4 });
line(11, [[jStim[0], -0.087], [jStim[1], -0.087]], '#000', 6, { z: 5 });

// ---------- K ----------
line(14, [[0, 0], [100, 100]], '#000', 1.3, { lineStyle: dash, z: 2 });
const hollow = (c) => ({ symbol: 'circle', itemStyle: { color: 'rgba(0,0,0,0)', borderColor: c, borderWidth: 1.3 } });
dots(14, zip(kAwakeMax, kAwakeOpt), DRED, 11, hollow(DRED));
dots(14, zip(kIsoMax, kIsoOpt), BLUE, 11, hollow(BLUE));
custom(14, [[14, kMeanOpt.iso, -3, kMeanOpt.iso]], arrowRender(7, 3.2, 1.4), BLUE, 5);
custom(14, [[14, kMeanOpt.awake, -3, kMeanOpt.awake]], arrowRender(7, 3.2, 1.4), DRED, 5);
custom(14, [[kMeanMax.awake, 12.6, kMeanMax.awake, 0]], arrowRender(7, 3.2, 1.4), DRED, 5);
custom(14, [[kMeanMax.iso, 12.6, kMeanMax.iso, 0]], arrowRender(7, 3.2, 1.4), BLUE, 5);

// ---------- L ----------
const lOpt = { smooth: 0.35, smoothMonotone: 'x', z: 2 };
lIsoCells.forEach((c) => line(15, zip(lContrast, c), 'rgba(150,160,240,0.6)', 1.1, lOpt));
lUreCells.forEach((c) => line(15, zip(lContrast, c), 'rgba(120,210,140,0.55)', 1, lOpt));
lAwakeCells.forEach((c) => line(15, zip(lContrast, c), 'rgba(238,135,172,0.6)', 1.1, lOpt));
lOtherCells.forEach((c) => line(15, zip(lContrast, c), 'rgba(170,110,220,0.6)', 1, lOpt));
line(15, lMeanAwake, '#b01717', 2.8, { smooth: 0.35, smoothMonotone: 'x', z: 5 });
line(15, lMeanUre, '#1fb530', 2.8, { smooth: 0.35, smoothMonotone: 'x', z: 5 });
line(15, lMeanIso, '#1630d0', 2.8, { smooth: 0.35, smoothMonotone: 'x', z: 5 });

// ---------- M, N ----------
const plus = 'path://M0,5L14,5M7,0L7,10';
function boxPanel(gi, boxes, outliers) {
  series.push({
    type: 'boxplot', xAxisIndex: gi, yAxisIndex: gi, silent: true, boxWidth: [21, 21],
    itemStyle: { color: 'rgba(0,0,0,0)', borderWidth: 1.4 },
    data: boxes.map((b, i) => ({ value: b, itemStyle: { borderColor: boxColors[i], color: 'rgba(0,0,0,0)' } }))
  });
  series.push({
    type: 'scatter', xAxisIndex: gi, yAxisIndex: gi, silent: true, symbol: plus, symbolSize: [14, 10],
    data: outliers.map((o) => ({ value: o, itemStyle: { color: 'rgba(0,0,0,0)', borderColor: boxColors[o[0]], borderWidth: 1.8 } })),
    z: 4
  });
}
boxPanel(16, mBoxes, mOutliers);
boxPanel(17, nBoxes, nOutliers);

// ---------- text ----------
function txt(x, y, s, o) {
  o = o || {};
  const font = (o.italic ? 'italic ' : '') + (o.bold ? 'bold ' : '') + (o.size || TITLE) + 'px ' + FONT;
  const al = o.align || 'center';
  return { type: 'text', x: x, y: y, rotation: o.rot ? Math.PI / 2 : 0, silent: true, z: 100,
    style: Object.assign({ text: s, fill: '#000', font: font, textAlign: al, textVerticalAlign: 'middle', align: al, verticalAlign: 'middle' }, o.style || {}) };
}
function seg(x1, y1, x2, y2, c, w) {
  return { type: 'line', silent: true, z: 100, shape: { x1: x1, y1: y1, x2: x2, y2: y2 }, style: { stroke: c, lineWidth: w || 2.5 } };
}
const letters = [['A', 3, 18], ['B', 332, 18], ['C', 2, 352], ['D', 335, 352], ['E', 600, 359], ['F', 4, 672], ['G', 280, 672],
  ['J', 557, 671], ['H', 4, 922], ['I', 282, 922], ['K', 557, 925], ['L', 4, 1222], ['M', 298, 1222], ['N', 547, 1222]];
const graphic = letters.map((l) => txt(l[1], l[2], l[0], { bold: true, size: 25, align: 'left' }));
graphic.push(
  seg(71, 142, 71, 149, '#000', 1.8),
  txt(12, 159, 'Relative frequency (%)', { rot: true, size: 18 }),
  txt(171, 302, 'Firing rate (spikes/s)'),
  txt(285, 277, '>60', { size: TICK }),
  seg(164, 52, 180, 52, BLUE), txt(188, 52, 'Iso/Ure', { size: 15, align: 'left' }),
  seg(164, 69, 180, 69, RED), txt(188, 69, 'Awake', { size: 15, align: 'left' }),
  txt(342, 148, 'Peak firing rate (spikes/s)', { rot: true }),
  txt(486, 148, 'RF center size (deg)', { rot: true }),
  txt(624, 148, 'Suppression index', { rot: true }),
  txt(12, 468, 'Firing rate (spikes/s)', { rot: true }),
  txt(172, 629, 'Diameter (deg)'),
  seg(164, 377, 180, 377, '#000'), txt(188, 377, '100%', { size: 15, align: 'left' }),
  seg(164, 393, 180, 393, GRAY), txt(188, 393, '18%', { size: 15, align: 'left' }),
  txt(477, 398, 'RF center size (deg)', { italic: true }),
  txt(341, 497, 'Low contrast', { rot: true }),
  txt(469, 629, 'High contrast'),
  txt(700, 398, 'Suppression index', { italic: true }),
  txt(702, 629, 'High contrast'),
  txt(12, 789, 'Firing rate (spikes/s)', { rot: true }),
  seg(107, 693, 123, 693, DRED, 2), seg(107, 699, 123, 699, DBLUE, 2), txt(132, 695, 'Optimal size', { size: 15, align: 'left' }),
  seg(107, 711, 123, 711, ORANGE, 2), seg(107, 717, 123, 717, LBLUE, 2), txt(132, 715, 'Maximal size', { size: 15, align: 'left' }),
  txt(288, 795, 'Normalized response', { rot: true }),
  txt(568, 786, 'Normalized response', { rot: true }),
  txt(683, 905, 'Time (ms)', { size: 13 }),
  txt(12, 1026, 'Firing rate (spikes/s)', { rot: true }),
  txt(154, 1160, 'Time (ms)'),
  txt(288, 1033, 'Normalized response', { rot: true }),
  txt(431, 1160, 'Time (ms)'),
  txt(697, 933, 'Onset latency (ms)', { italic: true }),
  txt(568, 1034, 'Optimal size', { rot: true }),
  txt(703, 1160, 'Maximal size'),
  txt(12, 1343, 'Normalized firing rate', { rot: true }),
  txt(178, 1497, 'Contrast (%)'),
  txt(315, 1368, 'Semisaturation contrast (%)', { rot: true }),
  txt(575, 1365, '{a|Exponent }{b|n}', { rot: true, style: { rich: {
    a: { fontSize: TITLE, fontFamily: FONT, fill: '#000' },
    b: { fontSize: TITLE, fontFamily: FONT, fontStyle: 'italic', fill: '#000' } } } })
);

const chart = echarts.init(document.getElementById('fig'), null, { renderer: 'canvas' });
chart.setOption({
  backgroundColor: '#fff',
  animation: false,
  textStyle: { fontFamily: FONT },
  grid: grids.map((g) => Object.assign({ containLabel: false }, g)),
  xAxis: xAxes,
  yAxis: yAxes,
  series: series,
  graphic: graphic
});
</script>
</body>
</html>
